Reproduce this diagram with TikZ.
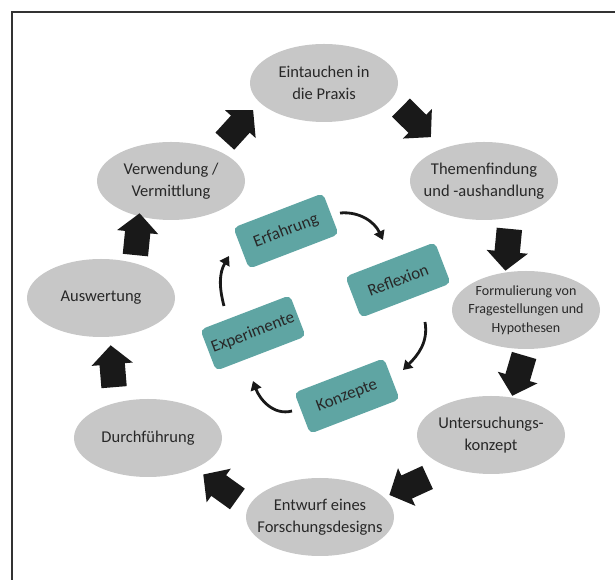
\documentclass[tikz,border=0pt]{standalone}
\usepackage{fontspec}
\setmainfont{Carlito}
\usetikzlibrary{shapes.geometric,shapes.arrows,arrows.meta,calc}

\definecolor{ringgray}{RGB}{199,199,199}
\definecolor{boxteal}{RGB}{95,165,163}
\definecolor{inktext}{RGB}{40,40,40}

\tikzset{
  phase/.style={ellipse, fill=ringgray, minimum width=148pt, minimum height=78pt,
    inner sep=-12pt, outer sep=0pt, align=center, text=inktext,
    font=\fontsize{16.5}{21.5}\selectfont},
  core/.style={rounded corners=5pt, fill=boxteal, minimum width=96pt, minimum height=44pt,
    inner xsep=3pt, rotate=21, text=inktext, font=\fontsize{17}{20}\selectfont},
  bigarrow/.style={single arrow, fill=black!90, sloped, allow upside down,
    inner xsep=0pt, inner ysep=12.5pt, minimum height=42pt,
    single arrow head extend=8pt, single arrow tip angle=95},
  turn/.style={line width=2.8pt, draw=black!90, -{Triangle[width=11pt,length=9pt]}},
}

\begin{document}
\begin{tikzpicture}[x=1pt,y=1pt]

\useasboundingbox (0,0) rectangle (615,580);
\draw [line width=1.3pt, black!80] (12,0) -- (12,568) -- (615,568);

\node [phase] (eint) at (324,497) {Eintauchen in\\die Praxis};
\node [phase] (them) at (484,399) {Themenfindung\\und -aushandlung};
\node [phase, font=\fontsize{14}{18.5}\selectfont] (form) at (526,270) {Formulierung von\\Fragestellungen und\\Hypothesen};
\node [phase] (unt) at (491,145) {Untersuchungs-\\konzept};
\node [phase] (entw) at (320,63) {Entwurf eines\\Forschungsdesigns};
\node [phase] (durch) at (148,142) {Durchführung};
\node [phase] (ausw) at (101,282) {Auswertung};
\node [phase] (verw) at (171,399) {Verwendung /\\Vermittlung};

\path (verw.34) -- (eint.197) node [bigarrow, pos=.426] (a1) {};
\path (eint.347) -- (them.142) node [bigarrow, pos=.393] (a2) {};
\path (them.306) -- (form.119) node [bigarrow, pos=.482] (a3) {};
\path (form.270) -- (unt.61) node [bigarrow, pos=.433] (a4) {};
\path (unt.218) -- (entw.17) node [bigarrow, pos=.546] (a5) {};
\path (entw.172) -- (durch.327) node [bigarrow, pos=.435] (a6) {};
\path (durch.133) -- (ausw.283) node [bigarrow, pos=.467] (a7) {};
\path (ausw.46) -- (verw.228) node [bigarrow, pos=.495] (a8) {};

\node [core] (erf) at (286,349) {Erfahrung};
\node [core] (refl) at (398,300) {Reflexion};
\node [core] (konz) at (347,184) {Konzepte};
\node [core] (exp) at (253,247) {Experimente};

\draw [turn] ($(erf)+(54,18)$) to [out=5, in=115] ($(refl)+(-15,40)$);
\draw [turn] ($(refl)+(27,-42)$) to [out=-80, in=45] ($(konz)+(56,26)$);
\draw [turn] ($(konz)+(-55,-15)$) to [out=195, in=-70] ($(exp)+(0,-48)$);
\draw [turn] ($(exp)+(-29,27)$) to [out=105, in=240] ($(erf)+(-57,-25)$);

\end{tikzpicture}
\end{document}
